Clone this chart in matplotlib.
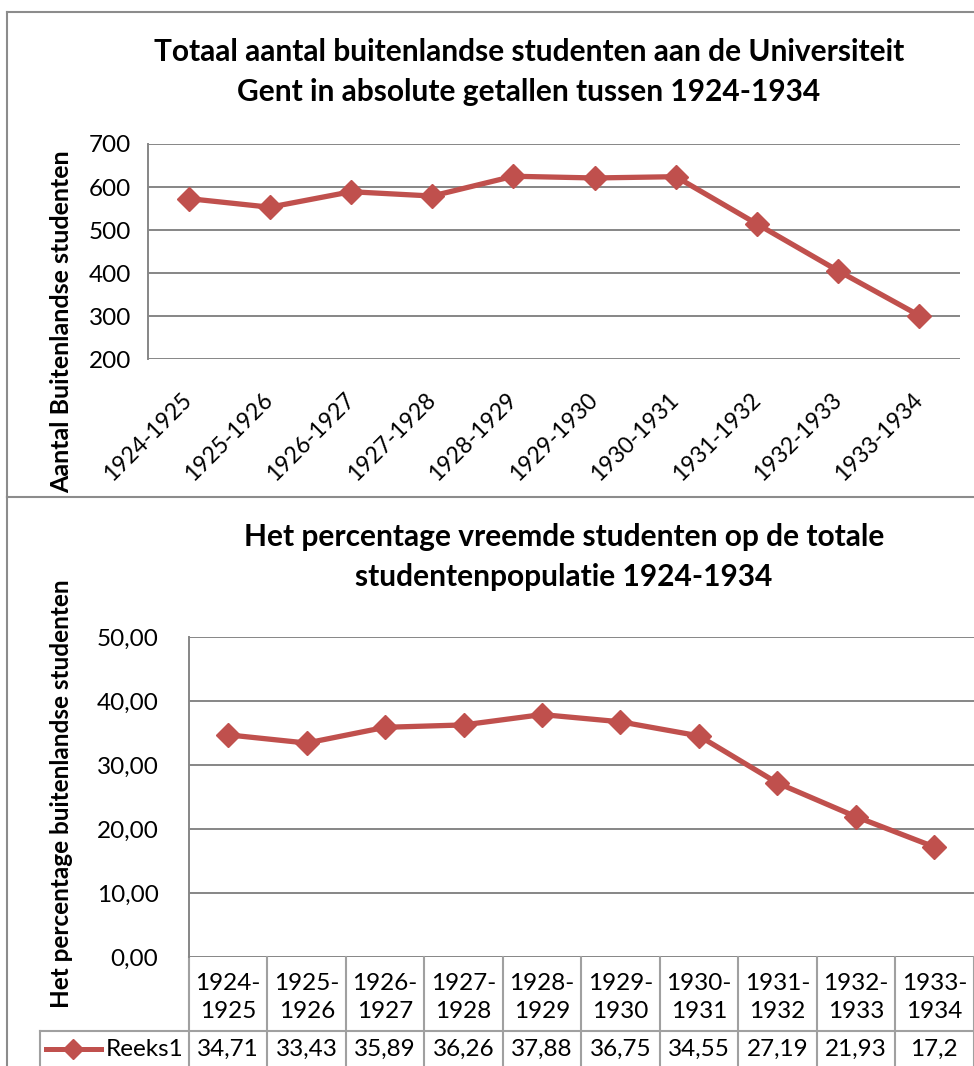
import numpy as np
import matplotlib
matplotlib.use('Agg')
import matplotlib.pyplot as plt
from matplotlib.lines import Line2D
from matplotlib.transforms import blended_transform_factory

plt.rcParams['font.family'] = ['Lato', 'DejaVu Sans']

# data
jaren = ['1924-1925', '1925-1926', '1926-1927', '1927-1928', '1928-1929',
         '1929-1930', '1930-1931', '1931-1932', '1932-1933', '1933-1934']
aantal = [573, 553, 589, 579, 625, 621, 624, 514, 405, 301]
percentage = [34.71, 33.43, 35.89, 36.26, 37.88, 36.75, 34.55, 27.19, 21.93, 17.2]
reeks_naam = 'Reeks1'

W, H = 974, 1066
fig = plt.figure(figsize=(W / 100, H / 100), dpi=100)

rood = '#C0504D'
grid_kleur = '#868686'
rand_kleur = '#8C8C8C'
tsize = 17.5


def fx(px):
    return px / W


def fy(py):
    return 1 - py / H


# chart frames
for x0, y0, x1, y1 in [(7, 12, 7, 497), (7, 12, 980, 12), (7, 497, 980, 497), (7, 497, 7, 1070)]:
    fig.add_artist(Line2D([fx(x0), fx(x1)], [fy(y0), fy(y1)], color=rand_kleur, lw=1.5))

# ---------------- top chart ----------------
x = np.arange(len(jaren))
ax1 = fig.add_axes([fx(148), fy(359), fx(960 - 148), (359 - 144) / H])
ax1.plot(x, aantal, color=rood, lw=3.8, marker='D', ms=12.5, zorder=3)
ax1.set_xlim(-0.5, len(jaren) - 0.5)
ax1.set_ylim(200, 700)
ax1.set_yticks(np.arange(200, 701, 100))
ax1.grid(axis='y', color=grid_kleur, lw=1.4)
ax1.set_axisbelow(True)
for s in ['top', 'right', 'bottom']:
    ax1.spines[s].set_visible(False)
ax1.spines['left'].set_color(grid_kleur)
ax1.spines['left'].set_linewidth(1.4)
ax1.tick_params(axis='both', length=0, labelsize=tsize, pad=12)
ax1.set_xticks(x)
ax1.set_xticklabels(jaren, rotation=45, ha='right', va='center', rotation_mode='anchor',
                    fontsize=16.5)
ax1.tick_params(axis='x', pad=27)
fig.text(fx(529), fy(52), 'Totaal aantal buitenlandse studenten aan de Universiteit',
         ha='center', va='center', fontsize=21.5, fontweight='bold')
fig.text(fx(529), fy(92), 'Gent in absolute getallen tussen 1924-1934',
         ha='center', va='center', fontsize=21.5, fontweight='bold')
fig.text(fx(62), fy(322), 'Aantal Buitenlandse studenten', rotation=90,
         ha='center', va='center', fontsize=18, fontweight='bold')

# ---------------- bottom chart ----------------
ax2 = fig.add_axes([fx(189), fy(957), fx(973.5 - 189), (957 - 637) / H])
ax2.plot(x, percentage, color=rood, lw=3.8, marker='D', ms=12.5, zorder=3)
ax2.set_xlim(-0.5, len(jaren) - 0.5)
ax2.set_ylim(0, 50)
ax2.set_yticks(np.arange(0, 51, 10))
ax2.set_yticklabels([f'{v:.2f}'.replace('.', ',') for v in np.arange(0, 51, 10)])
ax2.grid(axis='y', color=grid_kleur, lw=1.4)
ax2.set_axisbelow(True)
for s in ['top', 'right', 'bottom']:
    ax2.spines[s].set_visible(False)
ax2.spines['left'].set_color(grid_kleur)
ax2.spines['left'].set_linewidth(1.4)
ax2.tick_params(axis='both', length=0, labelsize=tsize, pad=22)
ax2.set_xticks([])
fig.text(fx(564), fy(537), 'Het percentage vreemde studenten op de totale',
         ha='center', va='center', fontsize=21.5, fontweight='bold')
fig.text(fx(564), fy(577), 'studentenpopulatie 1924-1934',
         ha='center', va='center', fontsize=21.5, fontweight='bold')
fig.text(fx(62), fy(794), 'Het percentage buitenlandse studenten', rotation=90,
         ha='center', va='center', fontsize=17.5, fontweight='bold')

# data table under the bottom chart
tr = blended_transform_factory(ax2.transData, fig.transFigure)
tabel_kleur = '#A0A0A0'
y_kop, y_mid, y_onder = fy(957), fy(1031), fy(1070)
for i in range(len(jaren) + 1):
    ax2.add_artist(Line2D([i - 0.5, i - 0.5], [y_kop, y_onder], transform=tr,
                          color=tabel_kleur, lw=1.5, clip_on=False))
fig.add_artist(Line2D([fx(40), fx(975)], [y_mid, y_mid], color=tabel_kleur, lw=1.5))
fig.add_artist(Line2D([fx(40), fx(40)], [y_mid, y_onder], color=tabel_kleur, lw=1.5))
for i, (j, p) in enumerate(zip(jaren, percentage)):
    a, b = j.split('-')
    ax2.text(i, fy(983), a + '-', transform=tr, ha='center', va='center', fontsize=tsize, clip_on=False)
    ax2.text(i, fy(1011), b, transform=tr, ha='center', va='center', fontsize=tsize, clip_on=False)
    ax2.text(i, fy(1049), str(p).replace('.', ','), transform=tr, ha='center', va='center',
             fontsize=tsize, clip_on=False)

# legend key
fig.add_artist(Line2D([fx(46), fx(101)], [fy(1049), fy(1049)], color=rood, lw=3.6))
fig.add_artist(Line2D([fx(73)], [fy(1049)], color=rood, marker='D', ms=10))
fig.text(fx(106), fy(1049), reeks_naam, ha='left', va='center', fontsize=tsize)

plt.savefig('out.png', dpi=100)
